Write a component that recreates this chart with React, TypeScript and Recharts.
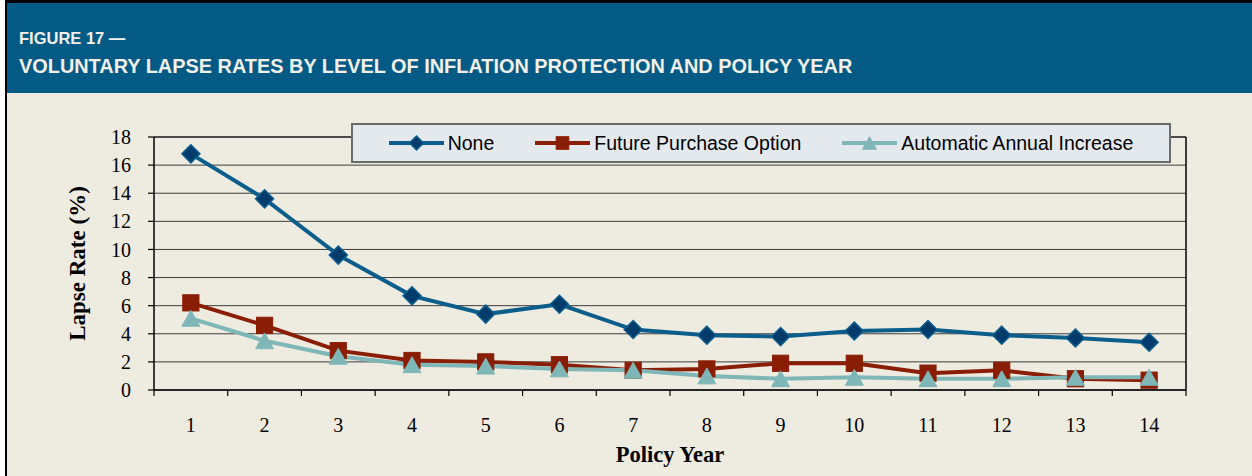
import {
  CartesianGrid,
  Legend,
  Line,
  LineChart,
  ReferenceLine,
  XAxis,
  YAxis,
} from "recharts";

const years = [1, 2, 3, 4, 5, 6, 7, 8, 9, 10, 11, 12, 13, 14];
const noneRates = [16.8, 13.6, 9.6, 6.7, 5.4, 6.1, 4.3, 3.9, 3.8, 4.2, 4.3, 3.9, 3.7, 3.4];
const fpoRates = [6.2, 4.6, 2.8, 2.1, 2.0, 1.8, 1.4, 1.5, 1.9, 1.9, 1.2, 1.4, 0.8, 0.7];
const aaiRates = [5.1, 3.5, 2.4, 1.8, 1.7, 1.5, 1.4, 1.0, 0.8, 0.9, 0.8, 0.8, 0.9, 0.9];
const yTicks = [0, 2, 4, 6, 8, 10, 12, 14, 16, 18];

const data = years.map((year, i) => ({
  year,
  none: noneRates[i],
  fpo: fpoRates[i],
  aai: aaiRates[i],
}));

// tick marks sit on the boundaries between years, labels in between
const xBounds = [...years.map((y) => y - 0.5), years[years.length - 1] + 0.5];

const W = 1252;
const H = 476;
const PLOT_LEFT = 154;
const PLOT_RIGHT = 1186;
const PLOT_TOP = 137;
const PLOT_BOTTOM = 390;
const BAND = (PLOT_RIGHT - PLOT_LEFT) / years.length;

const SERIF = '"Liberation Serif", "Times New Roman", serif';
const SANS = '"Liberation Sans", Arial, sans-serif';

type Shape = "diamond" | "square" | "triangle";

const series: { key: string; name: string; color: string; fill: string; shape: Shape }[] = [
  { key: "none", name: "None", color: "#0B5E8C", fill: "#013B6B", shape: "diamond" },
  { key: "fpo", name: "Future Purchase Option", color: "#8A1E05", fill: "#8A1E05", shape: "square" },
  { key: "aai", name: "Automatic Annual Increase", color: "#7FB6B8", fill: "#7FB6B8", shape: "triangle" },
];

function marker(shape: Shape, cx: number, cy: number, fill: string, stroke: string, s: number, key?: any) {
  if (shape === "diamond") {
    return (
      <polygon
        key={key}
        points={`${cx},${cy - s} ${cx + s},${cy} ${cx},${cy + s} ${cx - s},${cy}`}
        fill={fill}
        stroke={stroke}
        strokeWidth={1.5}
      />
    );
  }
  if (shape === "square") {
    const h = s * 0.9;
    return <rect key={key} x={cx - h} y={cy - h} width={h * 2} height={h * 2} fill={fill} stroke={stroke} strokeWidth={1} />;
  }
  const hw = s;
  const hh = s * 0.88;
  return (
    <polygon
      key={key}
      points={`${cx},${cy - hh} ${cx + hw},${cy + hh} ${cx - hw},${cy + hh}`}
      fill={fill}
      stroke={stroke}
      strokeWidth={1}
    />
  );
}

function YearTick(props: any) {
  const { x, y, payload } = props;
  const v = payload.value;
  if (v > years[years.length - 1]) return <g />;
  return (
    <text
      x={x + BAND / 2}
      y={y}
      dy="0.71em"
      textAnchor="middle"
      style={{ fontFamily: SERIF, fontSize: 20 }}
      fill="#000"
    >
      {v + 0.5}
    </text>
  );
}

function RateTick(props: any) {
  const { x, y, payload } = props;
  return (
    <text
      x={x}
      y={y}
      dy="0.355em"
      textAnchor="end"
      style={{ fontFamily: SERIF, fontSize: 20 }}
      fill="#000"
    >
      {payload.value}
    </text>
  );
}

function LegendBox() {
  return (
    <div
      style={{
        width: 820,
        height: 40,
        boxSizing: "border-box",
        background: "#E4E9EE",
        border: "2px solid #6a6a6a",
        display: "flex",
        alignItems: "center",
        justifyContent: "center",
        gap: 41,
        fontFamily: SANS,
        fontSize: 19.5,
        color: "#000",
      }}
    >
      {series.map((s) => (
        <div key={s.key} style={{ display: "flex", alignItems: "center" }}>
          <svg width={55} height={20}>
            <line x1={0} y1={10} x2={55} y2={10} stroke={s.color} strokeWidth={4} />
            {marker(s.shape, 27.5, 10, s.fill, s.color, 7)}
          </svg>
          <span style={{ marginLeft: 4, lineHeight: "20px" }}>{s.name}</span>
        </div>
      ))}
    </div>
  );
}

export default function App() {
  return (
    <div style={{ position: "absolute", left: 0, top: 0, width: W, height: H, background: "#fff" }}>
      <div
        style={{
          position: "absolute",
          left: 5,
          top: 0,
          right: 0,
          bottom: 0,
          background: "#EEEBE0",
          borderLeft: "2px solid #000",
          borderTop: "3px solid #000",
        }}
      />
      <div
        style={{
          position: "absolute",
          left: 7,
          top: 3,
          width: W - 7,
          height: 90,
          background: "#035A85",
          color: "#F2F0E8",
          fontFamily: SANS,
          fontWeight: "bold",
        }}
      >
        <div style={{ position: "absolute", left: 12, top: 27, fontSize: 16.5, lineHeight: "16.5px", whiteSpace: "nowrap" }}>
          FIGURE 17 —
        </div>
        <div style={{ position: "absolute", left: 12, top: 54.3, fontSize: 19.9, lineHeight: "19.9px", whiteSpace: "nowrap" }}>
          VOLUNTARY LAPSE RATES BY LEVEL OF INFLATION PROTECTION AND POLICY YEAR
        </div>
      </div>
      <div style={{ position: "absolute", left: 0, top: 0 }}>
        <LineChart
          width={W}
          height={H}
          data={data}
          margin={{ top: PLOT_TOP, right: W - PLOT_RIGHT, left: 0, bottom: 0 }}
        >
          <CartesianGrid vertical={false} stroke="#3c3c3c" strokeWidth={1} />
          <XAxis
            type="number"
            dataKey="year"
            domain={[xBounds[0], xBounds[xBounds.length - 1]]}
            ticks={xBounds}
            interval={0}
            height={H - PLOT_BOTTOM}
            tick={(p: any) => <YearTick {...p} />}
            tickSize={6}
            tickMargin={22}
            tickLine={{ stroke: "#000", strokeWidth: 1.2 }}
            axisLine={{ stroke: "#000", strokeWidth: 1.5 }}
            label={{
              value: "Policy Year",
              position: "insideBottom",
              offset: 14.5,
              fontFamily: SERIF,
              fontSize: 22.5,
              fontWeight: "bold",
              fill: "#000",
            }}
          />
          <YAxis
            domain={[0, 18]}
            ticks={yTicks}
            interval={0}
            width={PLOT_LEFT}
            tickSize={6}
            tickMargin={17}
            tick={(p: any) => <RateTick {...p} />}
            tickLine={{ stroke: "#000", strokeWidth: 1.2 }}
            axisLine={{ stroke: "#000", strokeWidth: 1.5 }}
            label={{
              value: "Lapse Rate (%)",
              angle: -90,
              position: "center",
              fontFamily: SERIF,
              fontSize: 23,
              fontWeight: "bold",
              fill: "#000",
            }}
          />
          <ReferenceLine y={18} stroke="#4a4a4a" strokeWidth={2} />
          <ReferenceLine x={xBounds[xBounds.length - 1]} stroke="#000" strokeWidth={1.5} />
          <Legend
            layout="vertical"
            align="center"
            verticalAlign="middle"
            wrapperStyle={{ left: 351, top: 123, width: 820, height: 40 }}
            content={() => <LegendBox />}
          />
          {series.map((s) => (
            <Line
              key={s.key}
              type="linear"
              dataKey={s.key}
              name={s.name}
              stroke={s.color}
              strokeWidth={4}
              isAnimationActive={false}
              activeDot={false}
              dot={(p: any) => marker(s.shape, p.cx, p.cy, s.fill, s.color, 9, p.index)}
            />
          ))}
        </LineChart>
      </div>
    </div>
  );
}
